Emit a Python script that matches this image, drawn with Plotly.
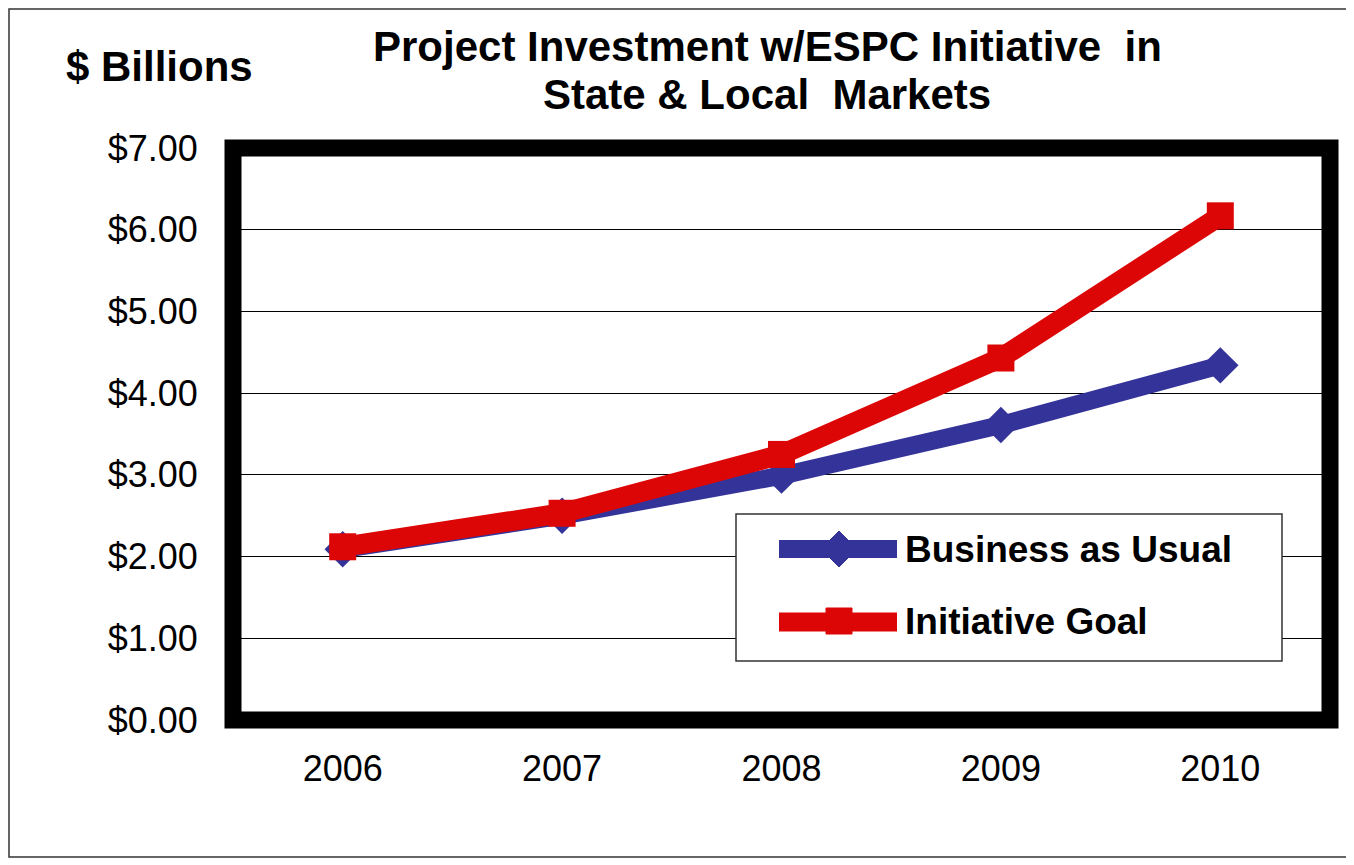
import plotly.graph_objects as go

years = ["2006", "2007", "2008", "2009", "2010"]
business_as_usual = [2.09, 2.50, 2.99, 3.61, 4.34]
initiative_goal = [2.12, 2.53, 3.25, 4.43, 6.17]
y_ticks = [0, 1, 2, 3, 4, 5, 6, 7]

W, H = 1354, 865
OFF = 8  # page body margin shifts the figure by this much
L, R, T, B = 233 - OFF, 32, 148 - OFF, 153
FONT = "Liberation Sans, Arial, sans-serif"
BLUE = "#333399"
RED = "#DD0606"


def px(x):
    # screen pixel x -> paper x
    return (x - OFF - L) / (W - L - R)


def py(y):
    # screen pixel y -> paper y
    return (H - B - (y - OFF)) / (H - T - B)


fig = go.Figure()
fig.add_trace(go.Scatter(x=years, y=business_as_usual, name="Business as Usual",
                         mode="lines+markers", line=dict(color=BLUE, width=18),
                         marker=dict(symbol="diamond", size=28, color=BLUE)))
fig.add_trace(go.Scatter(x=years, y=initiative_goal, name="Initiative Goal",
                         mode="lines+markers", line=dict(color=RED, width=20),
                         marker=dict(symbol="square", size=27, color=RED)))

shapes = [
    # outer border
    dict(type="rect", xref="paper", yref="paper", x0=px(9), x1=px(1348), y0=py(857), y1=py(9),
         line=dict(color="#333333", width=1.5), layer="below"),
    # thick plot frame
    dict(type="rect", xref="paper", yref="paper", x0=0, x1=1, y0=0, y1=1,
         line=dict(color="black", width=17), layer="above"),
    # legend box
    dict(type="rect", xref="paper", yref="paper", x0=px(736), x1=px(1282), y0=py(661), y1=py(514),
         line=dict(color="#333333", width=1.5), fillcolor="white", layer="above"),
    # legend keys
    dict(type="line", xref="paper", yref="paper", x0=px(779), x1=px(897), y0=py(549), y1=py(549),
         line=dict(color=BLUE, width=18), layer="above"),
    dict(type="path", xref="paper", yref="paper", xsizemode="pixel", ysizemode="pixel",
         xanchor=px(839), yanchor=py(549), path="M0,18 L18,0 L0,-18 L-18,0 Z",
         fillcolor=BLUE, line=dict(color=BLUE, width=1), layer="above"),
    dict(type="line", xref="paper", yref="paper", x0=px(779), x1=px(897), y0=py(622), y1=py(622),
         line=dict(color=RED, width=19), layer="above"),
    dict(type="path", xref="paper", yref="paper", xsizemode="pixel", ysizemode="pixel",
         xanchor=px(839), yanchor=py(621), path="M-13,-13 L13,-13 L13,13 L-13,13 Z",
         fillcolor=RED, line=dict(color=RED, width=1), layer="above"),
]


def label(text, x, y, size, anchor="left"):
    return dict(text="<b>" + text + "</b>", xref="paper", yref="paper", x=px(x), y=py(y),
                xanchor=anchor, yanchor="middle", showarrow=False,
                font=dict(size=size, color="black", family=FONT))


annotations = [
    label("$ Billions", 64, 66, 42),
    label("Project Investment w/ESPC Initiative  in", 767, 47, 42, "center"),
    label("State & Local  Markets", 767, 95, 42, "center"),
    label("Business as Usual", 903, 549, 37),
    label("Initiative Goal", 903, 621, 37),
]

fig.update_layout(
    width=W, height=H,
    margin=dict(l=L, r=R, t=T, b=B),
    paper_bgcolor="white", plot_bgcolor="white",
    showlegend=False,
    font=dict(family=FONT, color="black"),
    shapes=shapes,
    annotations=annotations,
)
fig.update_xaxes(type="category", range=[-0.5, 4.5], showgrid=False, zeroline=False,
                 ticks="outside", tickson="boundaries", ticklen=6, tickcolor="black",
                 ticklabelstandoff=24, tickfont=dict(size=36, color="black", family=FONT))
fig.update_yaxes(range=[0, 7], tickvals=y_ticks, tickformat="$.2f",
                 showgrid=True, gridcolor="black", gridwidth=1, zeroline=False,
                 ticks="outside", ticklen=6, tickcolor="black", ticklabelstandoff=21,
                 tickfont=dict(size=36, color="black", family=FONT))

fig.write_html("out.html")
